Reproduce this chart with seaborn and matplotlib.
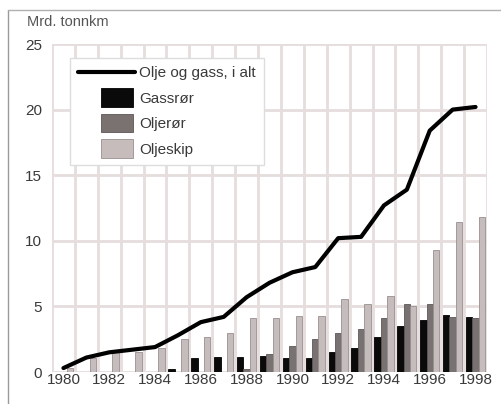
import numpy as np
import pandas as pd
import matplotlib
matplotlib.use("Agg")
import matplotlib.pyplot as plt
import matplotlib.patches as mpatches
from matplotlib.lines import Line2D
from matplotlib.legend_handler import HandlerPatch
import seaborn as sns

# ---- data ----
years = list(range(1980, 1999))
gassror = [0, 0, 0, 0, 0, 0.2, 1.1, 1.15, 1.15, 1.2, 1.1, 1.1, 1.5, 1.8, 2.7, 3.5, 4.0, 4.35, 4.2]
oljeror = [0, 0, 0, 0, 0, 0, 0, 0, 0.2, 1.4, 2.0, 2.5, 3.0, 3.3, 4.1, 5.2, 5.2, 4.2, 4.1]
oljeskip = [0.3, 1.1, 1.5, 1.5, 1.8, 2.5, 2.7, 3.0, 4.1, 4.1, 4.3, 4.3, 5.6, 5.2, 5.8, 5.0, 9.3, 11.4, 11.8]
total = [0.3, 1.1, 1.5, 1.7, 1.9, 2.8, 3.8, 4.2, 5.7, 6.8, 7.6, 8.0, 10.2, 10.3, 12.7, 13.9, 18.4, 20.0, 20.2]
series_names = ["Gassrør", "Oljerør", "Oljeskip"]
line_label = "Olje og gass, i alt"
y_label = "Mrd. tonnkm"
xtick_years = [1980, 1982, 1984, 1986, 1988, 1990, 1992, 1994, 1996, 1998]
yticks = [0, 5, 10, 15, 20, 25]

colors = {"Gassrør": "#0a0a0a", "Oljerør": "#7a7171", "Oljeskip": "#c6bcbc"}
edges = {"Gassrør": "#000000", "Oljerør": "#5e5656", "Oljeskip": "#9a8f8f"}
grid_c = "#e6dddd"
txt_c = "#3a3a3a"

sns.set_theme(style="white")
plt.rcParams["font.family"] = ["Liberation Sans", "DejaVu Sans"]

df = pd.DataFrame({
    "year": years * 3,
    "series": sum([[s] * len(years) for s in series_names], []),
    "value": gassror + oljeror + oljeskip,
})

fig = plt.figure(figsize=(5.01, 4.04), dpi=100)
ax = fig.add_axes([52 / 501, 1 - 372 / 404, 435 / 501, 328 / 404])

sns.barplot(data=df, x="year", y="value", hue="series", hue_order=series_names,
            palette=colors, width=0.84, legend=False, ax=ax, zorder=3)
for cont, name in zip(ax.containers, series_names):
    for bar in cont:
        bar.set_edgecolor(edges[name])
        bar.set_linewidth(0.6)

xpos = np.arange(len(years))
sns.lineplot(x=xpos, y=total, color="black", linewidth=3.0, ax=ax, zorder=4,
             legend=False)

n = len(years)
ax.set_xlim(-0.5, n - 0.5)
ax.set_ylim(0, 25)

# grid: vertical at year boundaries, horizontal at yticks
ax.set_xticks(np.arange(-0.5, n, 1.0), minor=True)
ax.set_xticks([years.index(y) for y in xtick_years])
ax.set_xticklabels([str(y) for y in xtick_years])
ax.set_yticks(yticks)
ax.set_yticklabels([str(v) for v in yticks])
ax.grid(False)
ax.xaxis.grid(True, which="minor", color=grid_c, linewidth=2.0, zorder=0)
ax.yaxis.grid(True, which="major", color=grid_c, linewidth=2.0, zorder=0)
ax.set_axisbelow(True)
for s in ax.spines.values():
    s.set_visible(False)
ax.tick_params(axis="both", which="both", length=0, labelsize=11, colors=txt_c)
ax.tick_params(axis="x", pad=1)
ax.tick_params(axis="y", pad=7)
ax.set_xlabel("")
ax.set_ylabel("")

# unit label
fig.text(27 / 501, 1 - 22 / 404, y_label, fontsize=10.5, color="#555555",
         ha="left", va="center")

# frame lines (left & top)
fig.add_artist(Line2D([8 / 501, 8 / 501], [0, 1 - 10 / 404], transform=fig.transFigure,
                      color="#9a9a9a", linewidth=1.0))
fig.add_artist(Line2D([8 / 501, 1], [1 - 10 / 404, 1 - 10 / 404], transform=fig.transFigure,
                      color="#b0b0b0", linewidth=1.0))


class NarrowPatch(HandlerPatch):
    def create_artists(self, legend, orig_handle, xdescent, ydescent, width, height,
                       fontsize, trans):
        w = width * 0.58
        h = height * 1.75
        x0 = -xdescent + width - w - 0.1 * fontsize
        y0 = -ydescent + height / 2 - h / 2
        p = mpatches.Rectangle((x0, y0), w, h)
        self.update_prop(p, orig_handle, legend)
        p.set_transform(trans)
        return [p]


handles = [Line2D([0], [0], color="black", linewidth=3.0)]
handles += [mpatches.Patch(facecolor=colors[s], edgecolor=edges[s], linewidth=0.6)
            for s in series_names]
labels = [line_label] + series_names
hmap = {h: NarrowPatch() for h in handles[1:]}
leg = ax.legend(handles, labels, loc="upper left", bbox_to_anchor=(18 / 435, 1 - 14 / 328),
                borderaxespad=0, fontsize=11, frameon=True, fancybox=False,
                framealpha=1, edgecolor="#dddddd", handlelength=3.7, handletextpad=0.25,
                labelspacing=0.75, borderpad=0.55, handler_map=hmap)
leg.get_frame().set_linewidth(1.0)
for t in leg.get_texts():
    t.set_color(txt_c)
leg.set_zorder(5)

fig.savefig("out.png", dpi=100)
